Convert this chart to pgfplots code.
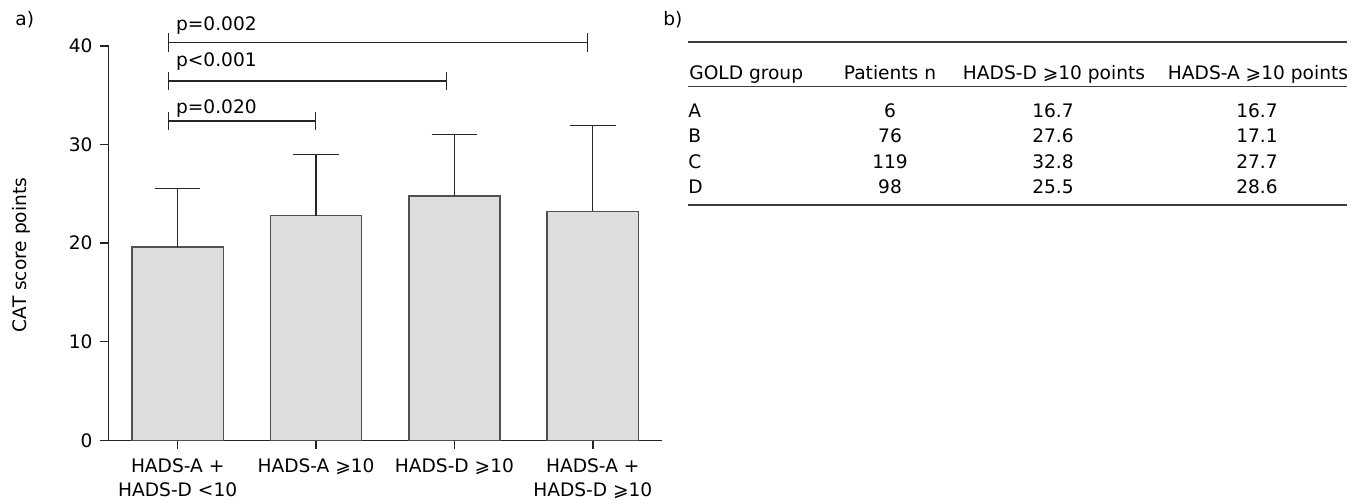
\documentclass[border=0pt]{standalone}
\usepackage{fontspec}
\setmainfont{DejaVu Sans}
\usepackage{pgfplots}
\pgfplotsset{compat=1.18}
\definecolor{barfill}{RGB}{220,221,223}
\definecolor{baredge}{RGB}{80,80,80}
\definecolor{axisgray}{RGB}{35,35,35}
\definecolor{rulegray}{RGB}{60,60,60}

\pgfplotstableread{
x y e
0 19.59 5.99
1 22.80 6.16
2 24.80 6.19
3 23.21 8.70
}\catdata

\newcommand{\chartfont}{\fontsize{9.3pt}{12pt}\selectfont}

\begin{document}
\begin{tikzpicture}[font=\chartfont]
\path[use as bounding box] (0,0) rectangle (679.5pt,250.5pt);
\begin{axis}[
  at={(54.25pt,30.35pt)}, anchor=south west,
  scale only axis, width=276.75pt, height=197.15pt,
  xmin=-0.5, xmax=3.5, ymin=0, ymax=40,
  axis x line*=bottom, axis y line*=left,
  axis line style={line width=0.75pt, color=axisgray, -},
  xtick={0,1,2,3},
  xticklabels={{HADS-A +\\HADS-D <10}, {HADS-A ⩾10}, {HADS-D ⩾10}, {HADS-A +\\HADS-D ⩾10}},
  xticklabel style={align=center, font=\chartfont, yshift=-1pt},
  yticklabel style={font=\chartfont},
  ytick={0,10,20,30,40},
  tick align=outside, major tick length=4.5pt,
  tick style={line width=0.75pt, color=axisgray},
  /pgf/number format/assume math mode=true,
  ylabel={CAT score points},
  every axis y label/.style={at={(axis description cs:-0.1566,0.47)}, rotate=90, anchor=center, font=\chartfont},
  clip=false,
]
\addplot[ybar, bar width=0.66, fill=barfill, draw=baredge, line width=0.75pt,
  error bars/.cd, y dir=plus, y explicit,
  error bar style={line width=0.6pt, color=black!85},
  error mark options={rotate=90, mark size=11.4pt, line width=0.6pt, color=black!85}]
  table[x=x, y=y, y error=e] {\catdata};

% significance brackets
\draw[line width=0.6pt, black!85] (axis cs:-0.065,40.38) -- (axis cs:2.9595,40.38);
\draw[line width=0.6pt, black!85] (axis cs:-0.065,39.42) -- (axis cs:-0.065,41.34);
\draw[line width=0.6pt, black!85] (axis cs:2.9595,39.42) -- (axis cs:2.9595,41.34);
\node[anchor=base west, inner sep=0pt] at (axis cs:-0.0145,41.6) {p=0.002};

\draw[line width=0.6pt, black!85] (axis cs:-0.065,36.45) -- (axis cs:1.943,36.45);
\draw[line width=0.6pt, black!85] (axis cs:-0.065,35.49) -- (axis cs:-0.065,37.41);
\draw[line width=0.6pt, black!85] (axis cs:1.943,35.49) -- (axis cs:1.943,37.41);
\node[anchor=base west, inner sep=0pt] at (axis cs:-0.0145,37.94) {p<0.001};

\draw[line width=0.6pt, black!85] (axis cs:-0.065,32.39) -- (axis cs:0.9957,32.39);
\draw[line width=0.6pt, black!85] (axis cs:-0.065,31.43) -- (axis cs:-0.065,33.35);
\draw[line width=0.6pt, black!85] (axis cs:0.9957,31.43) -- (axis cs:0.9957,33.35);
\node[anchor=base west, inner sep=0pt] at (axis cs:-0.0145,33.16) {p=0.020};
\end{axis}

% panel labels
\node[anchor=base west, inner sep=0pt] at (7.5pt,237.5pt) {a)};
\node[anchor=base west, inner sep=0pt] at (331.5pt,237.5pt) {b)};

% table
\draw[rulegray, line width=1pt] (344pt,229.5pt) -- (673.5pt,229.5pt);
\draw[rulegray, line width=0.7pt] (344pt,207.15pt) -- (673.5pt,207.15pt);
\draw[rulegray, line width=1pt] (344pt,148pt) -- (673.5pt,148pt);

\node[anchor=base west, inner sep=0pt] at (344.5pt,210.5pt) {GOLD group};
\node[anchor=base, inner sep=0pt] at (445pt,210.5pt) {Patients n};
\node[anchor=base, inner sep=0pt] at (527pt,210.5pt) {HADS-D ⩾10 points};
\node[anchor=base, inner sep=0pt] at (629pt,210.5pt) {HADS-A ⩾10 points};

\foreach \g/\n/\d/\a/\yy in {A/6/16.7/16.7/191.65, B/76/27.6/17.1/179.15, C/119/32.8/27.7/166.35, D/98/25.5/28.6/153.85}{
  \node[anchor=base west, inner sep=0pt] at (344pt,\yy pt) {\g};
  \node[anchor=base, inner sep=0pt] at (445pt,\yy pt) {\n};
  \node[anchor=base, inner sep=0pt] at (526.5pt,\yy pt) {\d};
  \node[anchor=base, inner sep=0pt] at (628.5pt,\yy pt) {\a};
}
\end{tikzpicture}
\end{document}
